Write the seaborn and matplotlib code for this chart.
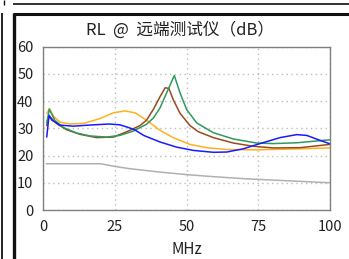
import matplotlib
matplotlib.use("Agg")
import matplotlib.pyplot as plt
from matplotlib.lines import Line2D
import seaborn as sns
import pandas as pd

# ---- data ----
f_gray = [1, 20, 25, 30, 40, 50, 60, 70, 80, 90, 100]
rl_gray = [17, 17, 16, 15.2, 14, 13, 12.2, 11.5, 11, 10.5, 10]

f_orange = [1.3, 2.1, 3.5, 5.8, 9.3, 14, 19.8, 24.4, 28.5, 32, 36, 40.7, 45.3, 51.2, 57, 64, 74.4, 86, 100]
rl_orange = [35.5, 37.3, 34.5, 32.3, 31.6, 31.8, 33.6, 35.7, 36.4, 35.7, 33, 29.3, 26.6, 24.1, 22.9, 22.2, 22.1, 22.4, 22.8]

f_brown = [1.2, 2.1, 4.7, 8.1, 12.8, 18.6, 24.4, 29, 33.7, 36, 38.4, 40.7, 42.5, 43.8, 45.3, 47.7, 51.2, 54, 59.3, 66.3, 73.3, 80.2, 89.5, 100]
rl_brown = [31, 34.5, 31.7, 29.5, 27.8, 26.6, 26.8, 28.7, 31, 33, 37, 41.6, 44.9, 44.7, 40.6, 35.5, 31, 28.8, 26.6, 24.6, 23.4, 22.8, 22.9, 24.1]

f_green = [1.2, 2.1, 4, 7, 11.6, 16.3, 22, 26.7, 31.4, 36, 38.4, 40.7, 43, 45.7, 47.7, 50, 53.5, 59.3, 66.3, 74.4, 80.2, 88.4, 100]
rl_green = [32, 37, 33, 30.3, 28.3, 27.2, 26.8, 27.4, 29, 31.5, 33.8, 37.5, 43, 49.4, 43, 36.9, 32, 28.4, 26.1, 24.6, 24.4, 24.7, 25.8]

f_blue = [1.2, 2, 3, 5.8, 10.5, 16, 23, 26.7, 30, 32, 35, 40.7, 46.5, 52.3, 59.3, 64, 69.8, 75.6, 82.6, 88.4, 91.9, 96.5, 100]
rl_blue = [26.8, 34.8, 33.0, 31.2, 30.8, 31.2, 31.6, 31.3, 30.2, 29.4, 27.4, 25, 23.1, 21.9, 21.2, 21.3, 22.5, 24.4, 26.6, 27.7, 27.4, 25.6, 24.3]

series_names = ["limit", "orange", "brown", "green", "blue"]
series_f = [f_gray, f_orange, f_brown, f_green, f_blue]
series_rl = [rl_gray, rl_orange, rl_brown, rl_green, rl_blue]
colors = ["#B0B0B0", "#FFB020", "#9A4A1C", "#2E9A5E", "#1A1AFF"]

x_ticks = [0, 25, 50, 75, 100]
y_ticks = [0, 10, 20, 30, 40, 50, 60]
title = "RL  @  远端测试仪（dB）"
xlabel = "MHz"

rows = []
for name, fs, rs in zip(series_names, series_f, series_rl):
    for fv, rv in zip(fs, rs):
        rows.append({"MHz": fv, "RL": rv, "series": name})
df = pd.DataFrame(rows)

sns.set_theme(style="white")
plt.rcParams["font.family"] = ["Noto Sans CJK SC", "DejaVu Sans"]

W, H = 349, 259
fig = plt.figure(figsize=(W / 100, H / 100), dpi=100)
ax = fig.add_axes([43.3 / W, 1 - 210 / H, (330 - 43.3) / W, (210 - 46.7) / H])

sns.lineplot(data=df, x="MHz", y="RL", hue="series", hue_order=series_names,
             palette=dict(zip(series_names, colors)), ax=ax, legend=False,
             linewidth=1.1, estimator=None, sort=False)

ax.set_xlim(0, 100)
ax.set_ylim(0, 60)
ax.set_xticks(x_ticks)
ax.set_yticks(y_ticks)
ax.grid(True, linestyle=(0, (1, 2.5)), color="#BDBDBD", linewidth=1.0)
for s in ax.spines.values():
    s.set_color("#808080")
    s.set_linewidth(1.0)
ax.tick_params(axis="both", length=0, labelsize=10.5, colors="#222222", pad=7)
ax.set_xlabel(xlabel, fontsize=11, color="#222222", labelpad=5)
ax.set_ylabel("")
fig.text(180 / W, 1 - 30 / H, title, ha="center", va="center", fontsize=12, color="#222222")

# panel borders
def px_line(x0, y0, x1, y1, lw):
    fig.add_artist(Line2D([x0 / W, x1 / W], [1 - y0 / H, 1 - y1 / H],
                          transform=fig.transFigure, color="#111111", linewidth=lw,
                          solid_capstyle="butt"))

px_line(3.5, 0, 3.5, 4.5, 1.0)
px_line(13, 3.8, W, 3.8, 1.2)
px_line(2.2, 13, 2.2, H, 1.3)
px_line(14, 12.5, 14, H, 2.4)
px_line(12.5, 14, W, 14, 2.2)

fig.savefig("out.png", dpi=100)
